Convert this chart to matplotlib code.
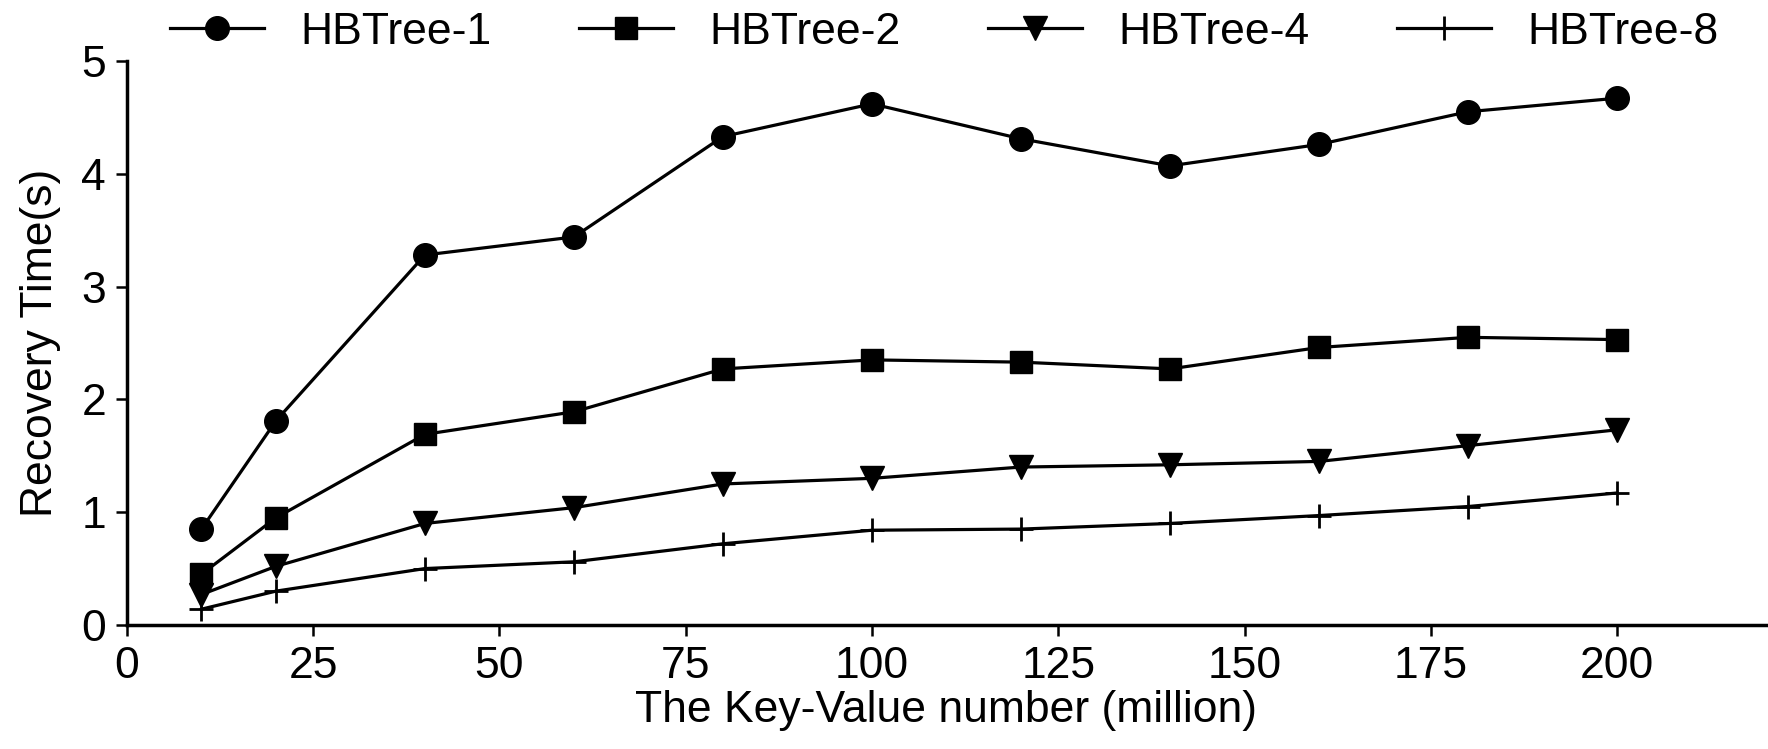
import matplotlib
matplotlib.use("Agg")
import matplotlib.pyplot as plt

plt.rcParams['font.family'] = ['Liberation Sans', 'DejaVu Sans']

# key-value number (million)
kv_million = [10, 20, 40, 60, 80, 100, 120, 140, 160, 180, 200]

# recovery time (s) per configuration
hbtree_1 = [0.85, 1.81, 3.28, 3.44, 4.33, 4.62, 4.31, 4.07, 4.26, 4.55, 4.67]
hbtree_2 = [0.45, 0.95, 1.69, 1.89, 2.27, 2.35, 2.33, 2.27, 2.46, 2.55, 2.53]
hbtree_4 = [0.27, 0.52, 0.90, 1.04, 1.25, 1.30, 1.40, 1.42, 1.45, 1.59, 1.73]
hbtree_8 = [0.14, 0.30, 0.50, 0.56, 0.72, 0.84, 0.85, 0.90, 0.97, 1.05, 1.17]

series_labels = ['HBTree-1', 'HBTree-2', 'HBTree-4', 'HBTree-8']
x_ticks = [0, 25, 50, 75, 100, 125, 150, 175, 200]
y_ticks = [0, 1, 2, 3, 4, 5]

fig = plt.figure(figsize=(17.68, 7.49), dpi=100)
ax = fig.add_axes([0.0718, 0.1656, 0.9271, 0.753])

styles = [('o', 17, 1.0), ('s', 16, 1.0), ('v', 17, 1.0), ('+', 17, 2.0)]
for ys, label, (mk, ms, mew) in zip([hbtree_1, hbtree_2, hbtree_4, hbtree_8], series_labels, styles):
    ax.plot(kv_million, ys, color='black', lw=2.3, marker=mk, markersize=ms,
            markeredgewidth=mew, markerfacecolor='black', markeredgecolor='black',
            label=label, clip_on=False)

ax.set_xlim(0, 220)
ax.set_ylim(0, 5)
ax.set_xticks(x_ticks)
ax.set_yticks(y_ticks)

for side in ['top', 'right']:
    ax.spines[side].set_visible(False)
for side in ['left', 'bottom']:
    ax.spines[side].set_linewidth(2.5)

ax.tick_params(axis='both', direction='out', length=8, width=1.8, labelsize=32, pad=7)
ax.set_xlabel('The Key-Value number (million)', fontsize=32, labelpad=2)
ax.set_ylabel('Recovery Time(s)', fontsize=32)
ax.yaxis.set_label_coords(-0.040, 0.5)

fig.legend(loc='center', bbox_to_anchor=(0.534, 0.957), ncol=4, frameon=False,
           fontsize=32, handlelength=2.12, handletextpad=0.81, columnspacing=1.97)

fig.savefig('out.png', dpi=100)
